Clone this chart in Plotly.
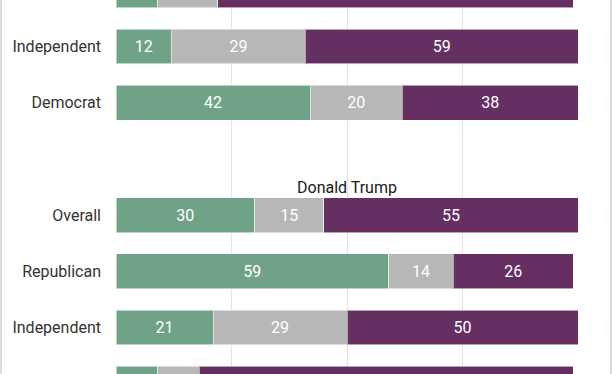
import plotly.graph_objects as go

# Row labels top-to-bottom ("" = spacer slot holding the section title)
rows = ["Republican", "Independent", "Democrat", "",
        "Overall", "Republican", "Independent", "Democrat"]
approve = [9, 12, 42, None, 30, 59, 21, 9]
neutral = [13, 29, 20, None, 15, 14, 29, 9]
disapprove = [77, 59, 38, None, 55, 26, 50, 81]
series_names = ["Approve", "Neither", "Disapprove"]
colors = ["#6fa287", "#b7b7b7", "#652f62"]
section_title = "Donald Trump"

y_lo, y_hi = 0.173, 6.827   # visible window (in row units)
half_bar = 0.31

pos = list(range(len(rows)))
keep = [i for i, r in enumerate(rows) if r != ""]
fully_visible = {i for i in keep if pos[i] - half_bar >= y_lo and pos[i] + half_bar <= y_hi}

fig = go.Figure()
for name, vals, col in zip(series_names, [approve, neutral, disapprove], colors):
    fig.add_trace(go.Bar(
        y=[pos[i] for i in keep], x=[vals[i] for i in keep], name=name,
        orientation="h", marker=dict(color=col, line=dict(color="rgba(255,255,255,0.55)", width=1)),
        text=[str(vals[i]) if i in fully_visible else "" for i in keep],
        texttemplate="%{text}", textposition="inside",
        insidetextanchor="middle", textangle=0,
        textfont=dict(color="white", size=16, family="Roboto"),
        hoverinfo="skip",
    ))

fig.update_layout(
    barmode="stack", bargap=0.38, width=612, height=374,
    margin=dict(l=116, r=34, t=0, b=0),
    plot_bgcolor="white", paper_bgcolor="white", showlegend=False,
    font=dict(family="Roboto", size=16, color="#333333"),
    uniformtext=dict(minsize=10, mode="show"),
)
fig.update_xaxes(range=[0, 100], tickvals=[0, 25, 50, 75, 100], showticklabels=False,
                 showgrid=True, gridcolor="#e3e3e3", gridwidth=1, zeroline=False,
                 fixedrange=True)
fig.update_yaxes(range=[y_hi, y_lo], tickvals=pos, ticktext=rows, showgrid=False,
                 zeroline=False, ticks="", ticklabelstandoff=14,
                 tickfont=dict(size=16, color="#333333", family="Roboto"))
fig.add_annotation(text=section_title, xref="paper", yref="paper", x=0.5, y=0.5,
                   showarrow=False, font=dict(size=16, color="#1a1a1a", family="Roboto"))
for px in [1, 611]:
    xp = (px - 116) / 462
    fig.add_shape(type="line", xref="paper", yref="paper", x0=xp, x1=xp, y0=0, y1=1,
                  line=dict(color="#dcdcdc", width=2))

fig.write_html("out.html", config={"displayModeBar": False},
               post_script="document.body.style.margin='0';document.body.style.overflow='hidden';")
